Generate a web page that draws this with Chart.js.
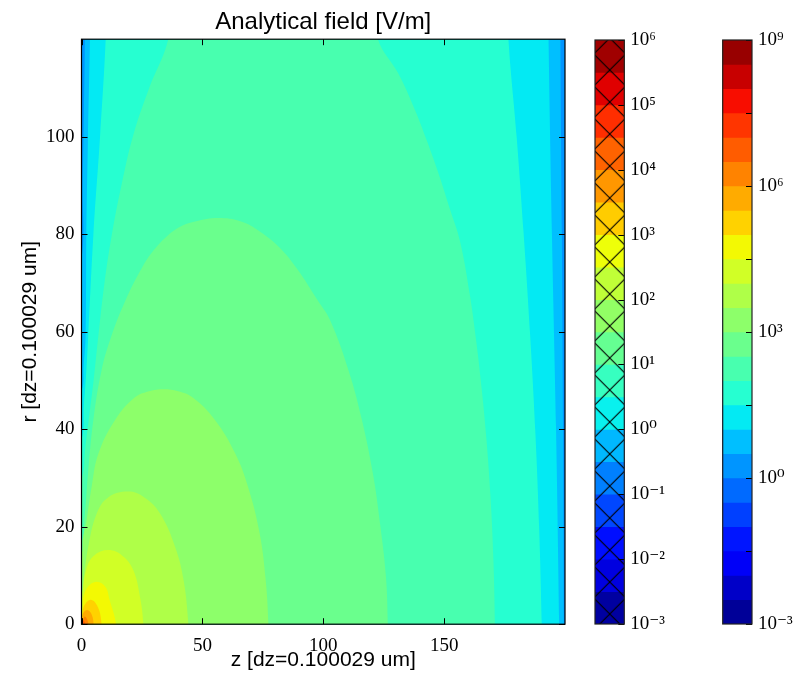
<!DOCTYPE html>
<html>
<head>
<meta charset="utf-8">
<script src="https://cdn.jsdelivr.net/npm/chart.js@4.4.1/dist/chart.umd.min.js"></script>
<style>
  html, body { margin: 0; padding: 0; background: #fff; }
  #wrap { position: relative; width: 795px; height: 674px; overflow: hidden; background: #fff; }
  canvas { position: absolute; top: 0; }
</style>
</head>
<body>
<div id="wrap">
  <canvas id="main" width="646" height="674" style="left:0"></canvas>
  <canvas id="cb1" width="100" height="674" style="left:590px"></canvas>
  <canvas id="cb2" width="78" height="674" style="left:717px"></canvas>
</div>
<script>
// ---------------- data ----------------
const zTicks = [0, 50, 100, 150];
const rTicks = [0, 20, 40, 60, 80, 100];

// contour level exponents (log10 V/m), right colour bar
const fieldLevels = [-3,-2.5,-2,-1.5,-1,-0.5,0,0.5,1,1.5,2,2.5,3,3.5,4,4.5,5,5.5,6,6.5,7,7.5,8,8.5,9];
const fieldTickExps = [-3,-1.5,0,1.5,3,4.5,6,7.5,9];
const fieldLabelExps = [-3,0,3,6,9];
// hatched colour bar
const hatchLevels = [-3,-2.5,-2,-1.5,-1,-0.5,0,0.5,1,1.5,2,2.5,3,3.5,4,4.5,5,5.5,6];
const hatchTickExps = [-3,-2,-1,0,1,2,3,4,5,6];

// contour boundaries, [z, r]
// outer levels: left branch (bottom -> top) and right branch (top -> bottom)
const c7Left  = [[0,75],[0.5,90],[1.0,105],[1.4,120]];
const c7Right = [[198.1,120],[198.7,80],[199.2,40],[199.5,0]];
const c8Left  = [[0,48],[0.9,53],[1.7,59.3],[2.0,79.8],[2.7,100.3],[3.5,120]];
const c8Right = [[193.2,120],[194.6,80],[196.3,40],[197.6,0]];
const c9Left  = [[0,38],[1.0,45],[2.0,52],[2.8,59.3],[4.9,79.8],[7.7,100.3],[10,120]];
const c9Right = [[176.6,120],[180,100],[182.8,80.8],[185.5,60],[187.7,39.8],[189.3,20],[190.4,0]];
const c10Left = [[0,30],[1.5,36],[3.5,44],[5,50],[7,59.3],[9.5,70],[12.5,79.8],[16.5,90],[21.4,100.3],[28,110],[35.9,120]];
const c10Right= [[122.6,120],[131,113],[137.5,106],[143,99],[148,92],[152.5,85],[156.6,78.5],[160.5,68],[163.3,58],[165.6,48],[167.5,38],[169.2,26],[170.4,13],[171,0]];
// inner closed levels: from the z=0 edge over the top down to the r=0 axis
const c11 = [[0,17],[1.2,21.4],[2.8,31.6],[4.9,41.9],[8.3,52.1],[12.5,59.3],[18,66.2],[24.9,73],[30,76.8],[35.8,79.8],[41,81.6],[47,82.6],[56.5,83.3],[66,82.6],[73.9,80.5],[82,77.2],[89,73],[98,66.2],[102.8,62.4],[110.5,52],[116,41.9],[120.5,31],[123.3,21.4],[125.9,10],[126.7,0]];
const c12 = [[0,14.6],[0.6,17.5],[2.1,21.4],[4.2,28.2],[7,35],[13.9,41.9],[22,46.5],[28,47.8],[34,48.2],[40,47.8],[46,46.5],[55.2,41.9],[63.6,35],[69,28],[73.7,18.6],[76.2,9],[77.3,0]];
const c13 = [[0,6.4],[0.8,9.1],[2.8,15.9],[6.3,22.7],[11,26],[19.2,27.2],[26,26],[32.5,22.7],[38.7,15.9],[42.2,9.1],[44.2,0]];
const c14 = [[0,3.6],[0.3,5.6],[1.9,11.1],[5,14],[11.1,15.2],[17,14],[21.4,11.1],[24.2,5.6],[25.6,0]];
const c15 = [[0,2],[0.6,5],[2.5,7.6],[6.3,8.7],[10,7.6],[11.6,5],[14.3,0]];
const c16 = [[0,1.2],[0.8,3.5],[3.8,5],[6.8,3.5],[8.3,0]];
const c17 = [[0,0.7],[0.6,2.2],[2.4,2.9],[4.2,2],[5,0]];
const c18 = [[0,0.4],[1.4,1.6],[2.9,0]];
const c19 = [[0,0.2],[0.7,0.8],[1.5,0]];

const regions = [
  {band: 7,  left: c7Left,  right: c7Right},
  {band: 8,  left: c8Left,  right: c8Right},
  {band: 9,  left: c9Left,  right: c9Right},
  {band: 10, left: c10Left, right: c10Right},
  {band: 11, path: c11},
  {band: 12, path: c12},
  {band: 13, path: c13},
  {band: 14, path: c14},
  {band: 15, path: c15},
  {band: 16, path: c16},
  {band: 17, path: c17},
  {band: 18, path: c18},
  {band: 19, path: c19}
];
const backgroundBand = 6;

// ---------------- helpers ----------------
function jet(t) {
  const seg = (pts) => {
    for (let i = 1; i < pts.length; i++) {
      if (t <= pts[i][0]) {
        const [x0, y0] = pts[i-1], [x1, y1] = pts[i];
        return y0 + (y1 - y0) * (t - x0) / (x1 - x0);
      }
    }
    return pts[pts.length-1][1];
  };
  const r = seg([[0,0],[0.35,0],[0.66,1],[0.89,1],[1,0.5]]);
  const g = seg([[0,0],[0.125,0],[0.375,1],[0.64,1],[0.91,0],[1,0]]);
  const b = seg([[0,0.5],[0.11,1],[0.34,1],[0.65,0],[1,0]]);
  return `rgb(${Math.round(r*255)},${Math.round(g*255)},${Math.round(b*255)})`;
}
const nField = fieldLevels.length - 1;
const nHatch = hatchLevels.length - 1;
const fieldColor = (k) => jet((k + 0.5) / nField);
const hatchColor = (k) => jet((k + 0.5) / nHatch);

const SUP = {'0':'⁰','1':'¹','2':'²','3':'³','4':'⁴','5':'⁵','6':'⁶','7':'⁷','8':'⁸','9':'⁹','-':'⁻'};
const pow10Label = (e) => '10' + String(e).split('').map(c => SUP[c]).join('');

function buildPoly(reg) {
  const out = [];
  if (reg.path) {
    const p = reg.path;
    out.push([-4, p[0][1]]);
    p.forEach(q => out.push(q));
    out.push([p[p.length-1][0], -4]);
    out.push([-4, -4]);
  } else {
    const L = reg.left, R = reg.right;
    out.push([-4, L[0][1]]);
    L.forEach(q => out.push(q));
    out.push([L[L.length-1][0], 126]);
    out.push([R[0][0], 126]);
    R.forEach(q => out.push(q));
    out.push([R[R.length-1][0], -4]);
    out.push([-4, -4]);
  }
  return out.map(([x, y]) => ({x, y}));
}

const SERIF = "'Liberation Serif', 'DejaVu Serif', serif";
const SANS = "'Liberation Sans', Arial, sans-serif";

// ---------------- main chart ----------------
const mainDecor = {
  id: 'mainDecor',
  beforeDatasetsDraw(chart) {
    const {ctx, chartArea: a} = chart;
    ctx.save();
    ctx.fillStyle = fieldColor(backgroundBand);
    ctx.fillRect(a.left, a.top, a.right - a.left, a.bottom - a.top);
    ctx.restore();
  },
  afterDraw(chart) {
    const {ctx, chartArea: a, scales} = chart;
    ctx.save();
    ctx.strokeStyle = '#000';
    ctx.lineWidth = 1;
    const tl = 6;
    ctx.beginPath();
    scales.x.ticks.forEach(t => {
      const px = Math.round(scales.x.getPixelForValue(t.value)) + 0.5;
      ctx.moveTo(px, a.bottom); ctx.lineTo(px, a.bottom - tl);
      ctx.moveTo(px, a.top); ctx.lineTo(px, a.top + tl);
    });
    scales.y.ticks.forEach(t => {
      const py = Math.round(scales.y.getPixelForValue(t.value)) + 0.5;
      ctx.moveTo(a.left, py); ctx.lineTo(a.left + tl, py);
      ctx.moveTo(a.right, py); ctx.lineTo(a.right - tl, py);
    });
    ctx.stroke();
    ctx.lineWidth = 1.2;
    ctx.strokeRect(a.left, a.top, a.right - a.left, a.bottom - a.top);
    ctx.restore();
  }
};

new Chart(document.getElementById('main'), {
  type: 'line',
  data: {
    datasets: regions.map(reg => ({
      data: buildPoly(reg),
      fill: 'shape',
      backgroundColor: fieldColor(reg.band),
      borderColor: 'rgba(0,0,0,0)',
      borderWidth: 0,
      pointRadius: 0,
      tension: 0.4,
      order: -reg.band
    }))
  },
  options: {
    responsive: false,
    animation: false,
    events: [],
    layout: { padding: { left: 0, right: 81, top: 0, bottom: 0 } },
    plugins: {
      legend: { display: false },
      tooltip: { enabled: false },
      title: {
        display: true, text: 'Analytical field [V/m]', fullSize: false, color: '#000',
        font: { family: SANS, size: 24, weight: 'normal' },
        padding: { top: 7.6, bottom: 2.8 }
      }
    },
    scales: {
      x: {
        type: 'linear', min: 0, max: 200,
        afterBuildTicks: s => { s.ticks = zTicks.map(v => ({value: v})); },
        afterFit: s => { s.height = 49.8; },
        grid: { display: false, drawTicks: false },
        border: { display: false },
        ticks: { color: '#000', font: { family: SERIF, size: 19 }, padding: 10, maxRotation: 0 },
        title: { display: true, text: 'z [dz=0.100029 um]', color: '#000',
                 font: { family: SANS, size: 21 }, padding: { top: 0, bottom: 1.5 } }
      },
      y: {
        type: 'linear', min: 0, max: 120,
        afterBuildTicks: s => { s.ticks = rTicks.map(v => ({value: v})); },
        afterFit: s => { s.width = 81.5; },
        grid: { display: false, drawTicks: false },
        border: { display: false },
        ticks: { color: '#000', font: { family: SERIF, size: 19 }, padding: 7 },
        title: { display: true, text: 'r [dz=0.100029 um]', color: '#000',
                 font: { family: SANS, size: 21 }, padding: { top: 17.4, bottom: 0 } }
      }
    }
  },
  plugins: [mainDecor]
});

// ---------------- colour bars ----------------
function makeHatch(dx, dy) {
  const P = 32;
  const c = document.createElement('canvas');
  c.width = P; c.height = P;
  const g = c.getContext('2d');
  g.strokeStyle = '#000';
  g.lineWidth = 1.1;
  g.beginPath();
  g.moveTo(0, 0); g.lineTo(P, P);
  g.moveTo(P, 0); g.lineTo(0, P);
  g.stroke();
  const pat = g.createPattern(c, 'repeat');
  pat.setTransform(new DOMMatrix([1, 0, 0, 1, dx, dy]));
  return pat;
}

function cbDecor(tickExps) {
  return {
    id: 'cbDecor',
    afterDraw(chart) {
      const {ctx, chartArea: a, scales} = chart;
      ctx.save();
      ctx.strokeStyle = '#000';
      ctx.lineWidth = 1;
      ctx.beginPath();
      tickExps.forEach(e => {
        const py = Math.round(scales.y.getPixelForValue(Math.pow(10, e))) + 0.5;
        ctx.moveTo(a.right, py); ctx.lineTo(a.right - 6, py);
      });
      ctx.stroke();
      ctx.lineWidth = 1.2;
      ctx.strokeStyle = '#222';
      ctx.strokeRect(a.left, a.top, a.right - a.left, a.bottom - a.top);
      ctx.restore();
    }
  };
}

function colourBar(canvasId, levels, colorFn, tickExps, labelExps, padLeft, axisWidth, hatch) {
  const top = Math.pow(10, levels[levels.length - 1]);
  const datasets = levels.slice(0, -1).map((e, k) => ({
    data: [[Math.pow(10, e), top]],
    backgroundColor: colorFn(k),
    borderWidth: 0,
    grouped: false,
    barPercentage: 1,
    categoryPercentage: 1,
    order: -k
  }));
  if (hatch) {
    datasets.push({
      data: [[Math.pow(10, levels[0]), top]],
      backgroundColor: hatch,
      borderWidth: 0,
      grouped: false,
      barPercentage: 1,
      categoryPercentage: 1,
      order: -1000
    });
  }
  new Chart(document.getElementById(canvasId), {
    type: 'bar',
    data: { labels: ['cb'], datasets },
    options: {
      responsive: false,
      animation: false,
      events: [],
      layout: { padding: { left: padLeft, right: 0, top: 40, bottom: 50 } },
      plugins: { legend: { display: false }, tooltip: { enabled: false }, title: { display: false } },
      scales: {
        x: { display: false },
        y: {
          type: 'logarithmic', position: 'right',
          min: Math.pow(10, levels[0]), max: top,
          afterBuildTicks: s => { s.ticks = tickExps.map(e => ({value: Math.pow(10, e)})); },
          afterFit: s => { s.width = axisWidth; },
          grid: { display: false, drawTicks: false },
          border: { display: false },
          ticks: {
            color: '#000', font: { family: SERIF, size: 19 }, padding: 6,
            autoSkip: false,
            callback: (v) => {
              const e = Math.round(Math.log10(v) * 2) / 2;
              return labelExps.includes(e) ? pow10Label(e) : '';
            }
          }
        }
      }
    },
    plugins: [cbDecor(tickExps)]
  });
}

colourBar('cb1', hatchLevels, hatchColor, hatchTickExps, hatchTickExps, 5, 65.7, makeHatch(19.7, 6));
colourBar('cb2', fieldLevels, fieldColor, fieldTickExps, fieldLabelExps, 5.7, 43, null);
</script>
</body>
</html>
